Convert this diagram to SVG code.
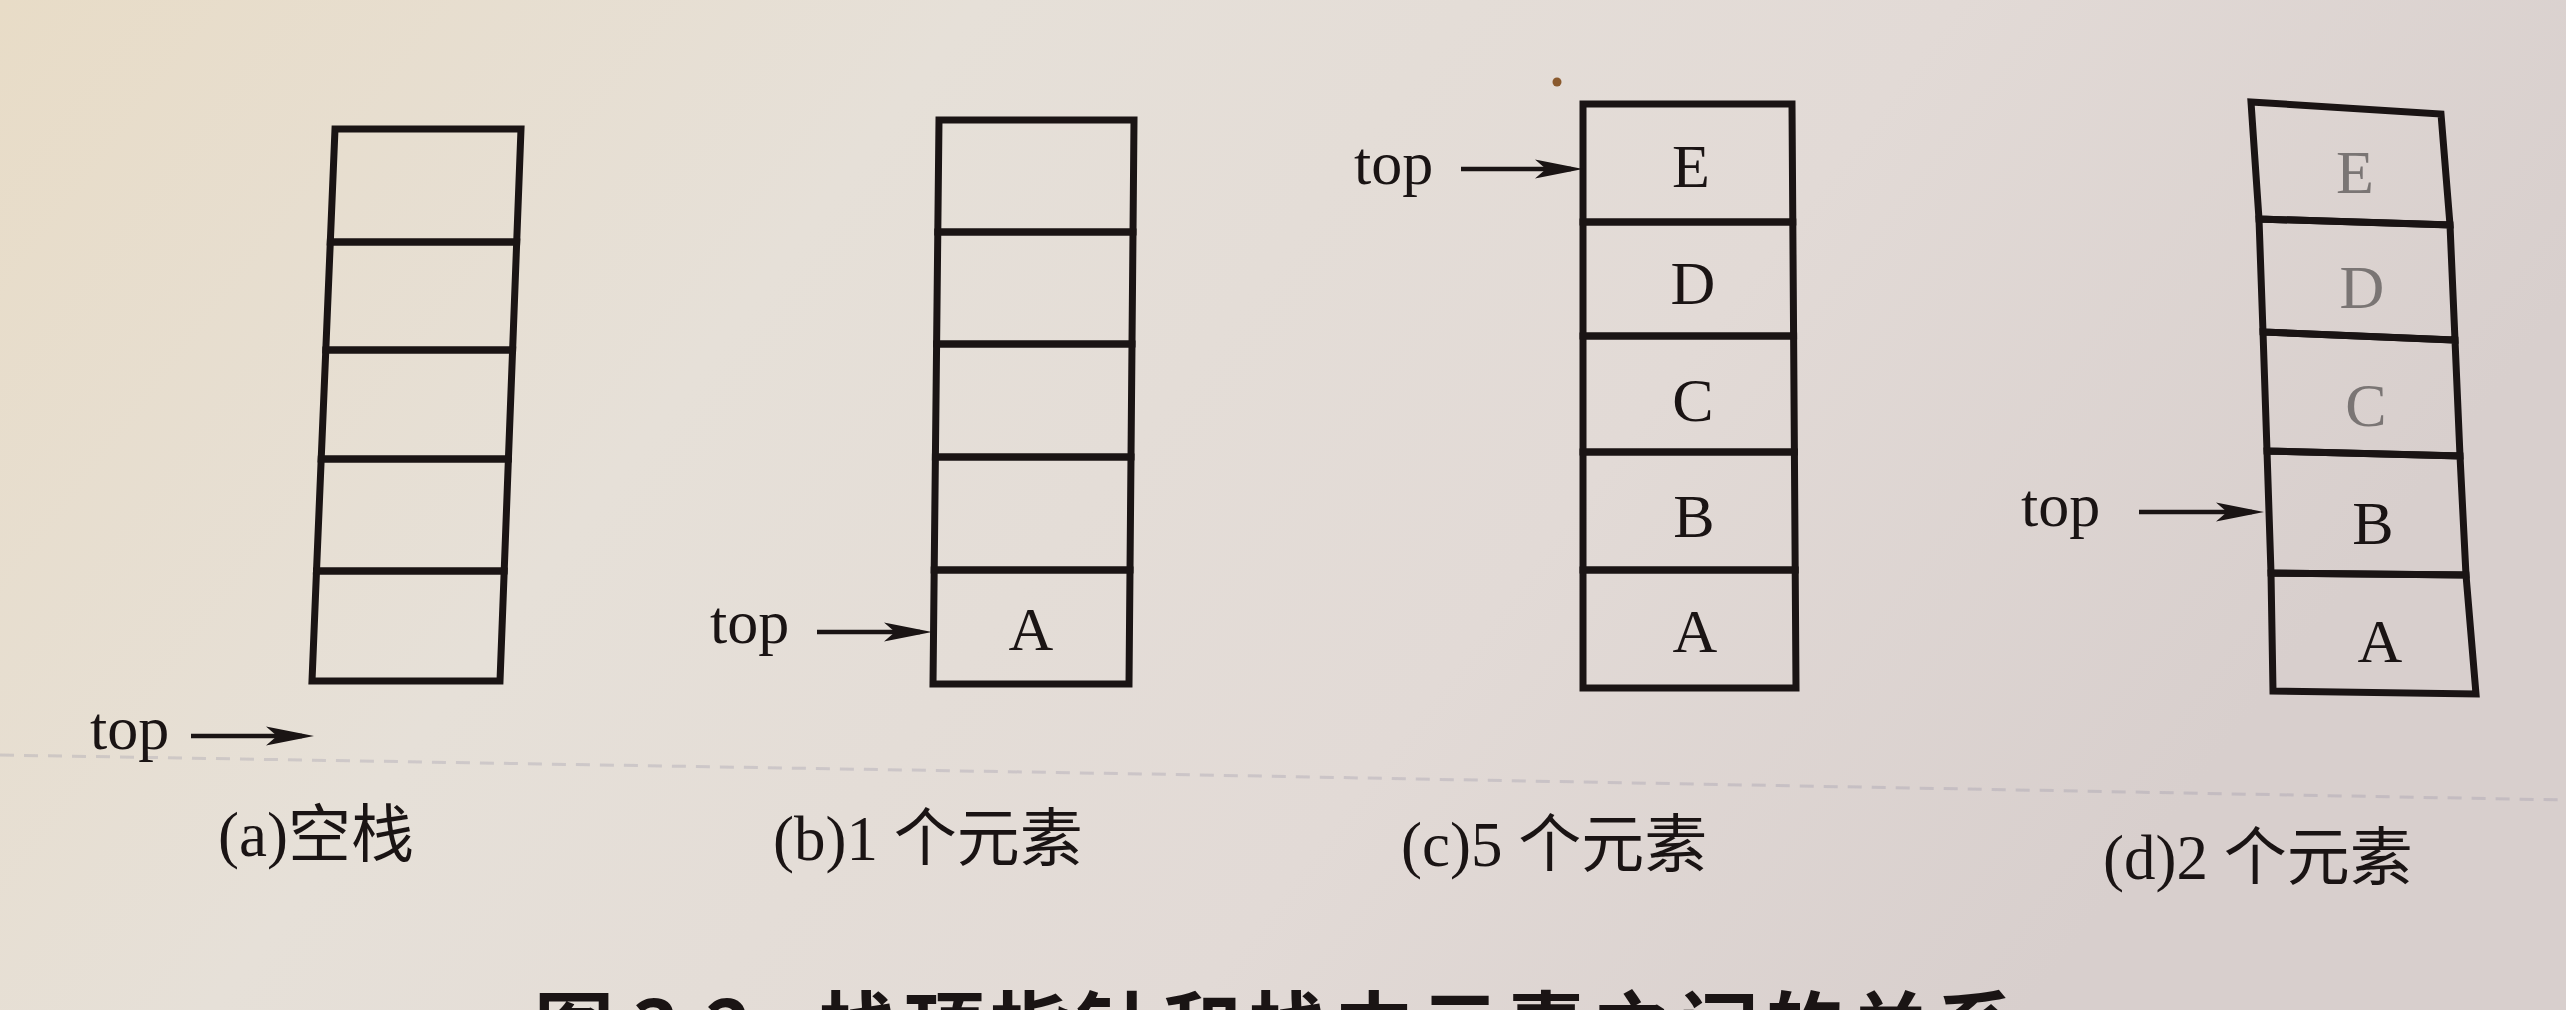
<svg xmlns="http://www.w3.org/2000/svg" width="2566" height="1010" viewBox="0 0 2566 1010">
  <defs>
    <linearGradient id="bg" x1="0" y1="0" x2="1" y2="0.3">
      <stop offset="0" stop-color="#e8dcc7"/>
      <stop offset="0.35" stop-color="#e6e0d8"/>
      <stop offset="0.7" stop-color="#e2dad6"/>
      <stop offset="1" stop-color="#d8cfcd"/>
    </linearGradient>
    <marker id="ah" viewBox="-40 -12 54 24" markerWidth="54" markerHeight="24" refX="0" refY="0" orient="auto" markerUnits="userSpaceOnUse">
      <path d="M12,0 L-36,-9.5 L-25,0 L-36,9.5 Z" fill="#1a1414"/>
    </marker>
    <style>
      .cell { fill: none; stroke: #1a1414; stroke-width: 7; stroke-linejoin: miter; }
      .lbl { font-family: "Liberation Serif", "Times New Roman", serif; font-size: 62px; fill: #1a1414; text-anchor: middle; }
      .ghost { fill: #7a7574; }
      .top { font-family: "Liberation Serif", "Times New Roman", serif; font-size: 62px; fill: #1a1414; }
      .cap { font-family: "Liberation Serif", "Noto Sans CJK SC", serif; font-size: 63px; fill: #1a1414; }
      .fig { font-family: "Noto Sans CJK SC", "Liberation Sans", sans-serif; font-size: 80px; font-weight: bold; fill: #1a1414; }
      .ptr { stroke: #1a1414; stroke-width: 4.5; fill: none; marker-end: url(#ah); }
    </style>
  </defs>

  <rect x="0" y="0" width="2566" height="1010" fill="url(#bg)"/>
  <path d="M0,755 L1146,774 L2566,800" stroke="#8f8ca3" stroke-width="3" stroke-dasharray="14 10" fill="none" opacity="0.28"/>
  <circle cx="1557" cy="82" r="4.5" fill="#8a5a2e"/>

  <!-- (a) empty stack -->
  <g id="stack-a">
    <polygon class="cell" points="335,129 521,129 516.7,242 330.3,242"/>
    <polygon class="cell" points="330.3,242 516.7,242 512.6,350 325.8,350"/>
    <polygon class="cell" points="325.8,350 512.6,350 508.4,459 321.2,459"/>
    <polygon class="cell" points="321.2,459 508.4,459 504.2,571 316.5,571"/>
    <polygon class="cell" points="316.5,571 504.2,571 500,681 312,681"/>
  </g>
  <g id="top-a"><text class="top" x="90" y="749">top</text></g>
  <g id="caption-a"><text class="cap" x="218" y="856">(a)空栈</text></g>

  <!-- (b) one element -->
  <g id="stack-b">
    <polygon class="cell" points="939,120 1134,120 1133,232 937.8,232"/>
    <polygon class="cell" points="937.8,232 1133,232 1132,344 936.6,344"/>
    <polygon class="cell" points="936.6,344 1132,344 1131,457 935.4,457"/>
    <polygon class="cell" points="935.4,457 1131,457 1130,570 934.2,570"/>
    <polygon class="cell" points="934.2,570 1130,570 1129,684 933,684"/>
    <text class="lbl" x="1031" y="650">A</text>
  </g>
  <g id="top-b"><text class="top" x="710" y="643">top</text></g>
  <g id="caption-b"><text class="cap" x="773" y="860">(b)1 个元素</text></g>

  <!-- (c) five elements -->
  <g id="stack-c">
    <polygon class="cell" points="1583,104 1792,104 1792.8,222 1583,222"/>
    <polygon class="cell" points="1583,222 1792.8,222 1793.6,336 1583,336"/>
    <polygon class="cell" points="1583,336 1793.6,336 1794.4,452 1583,452"/>
    <polygon class="cell" points="1583,452 1794.4,452 1795.2,570 1583,570"/>
    <polygon class="cell" points="1583,570 1795.2,570 1796,688 1583,688"/>
    <text class="lbl" x="1691" y="187">E</text>
    <text class="lbl" x="1693" y="304">D</text>
    <text class="lbl" x="1693" y="421">C</text>
    <text class="lbl" x="1694" y="537">B</text>
    <text class="lbl" x="1695" y="652">A</text>
  </g>
  <g id="top-c"><text class="top" x="1354" y="184">top</text></g>
  <g id="caption-c"><text class="cap" x="1401" y="866">(c)5 个元素</text></g>

  <!-- (d) two elements -->
  <g id="stack-d">
    <polygon class="cell" points="2251,102 2441,114 2450,225 2259,219"/>
    <polygon class="cell" points="2259,219 2450,225 2455,340 2263,332"/>
    <polygon class="cell" points="2263,332 2455,340 2460,456 2267,451"/>
    <polygon class="cell" points="2267,451 2460,456 2466,575 2271,573"/>
    <polygon class="cell" points="2271,573 2466,575 2476,694 2273,691"/>
    <text class="lbl ghost" x="2355" y="193">E</text>
    <text class="lbl ghost" x="2362" y="308">D</text>
    <text class="lbl ghost" x="2366" y="426">C</text>
    <text class="lbl" x="2373" y="544">B</text>
    <text class="lbl" x="2380" y="662">A</text>
  </g>
  <g id="top-d"><text class="top" x="2021" y="526">top</text></g>
  <g id="caption-d"><text class="cap" x="2103" y="879">(d)2 个元素</text></g>

  <!-- figure caption, cut off by the bottom edge as in the photo -->
  <g id="figure-caption"><text class="fig" y="1058"><tspan x="534">图 3.2</tspan><tspan x="818" letter-spacing="6">栈顶指针和栈中元素之间的关系</tspan></text></g>

  <!-- connectors: top pointers -->
  <g id="connectors">
    <line class="ptr" x1="191" y1="736" x2="302" y2="736"/>
    <line class="ptr" x1="817" y1="632" x2="920" y2="632"/>
    <line class="ptr" x1="1461" y1="169" x2="1571" y2="169"/>
    <line class="ptr" x1="2139" y1="512" x2="2252" y2="512"/>
  </g>
</svg>
